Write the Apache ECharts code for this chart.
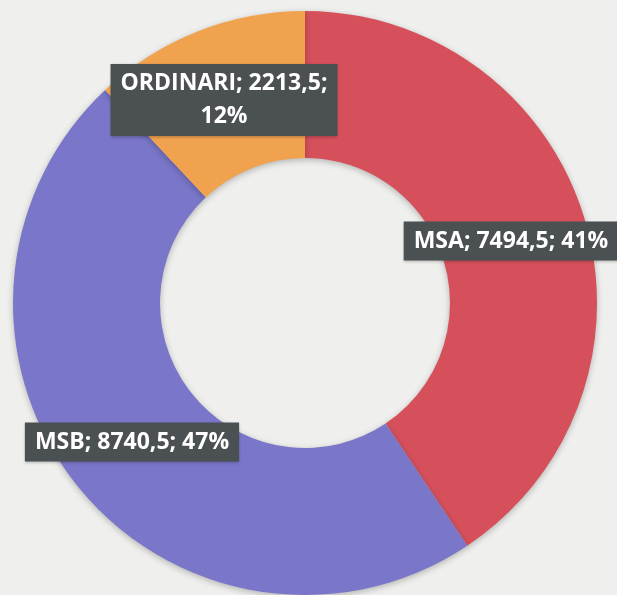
<!DOCTYPE html>
<html>
<head>
<meta charset="utf-8">
<style>
  html, body { margin: 0; padding: 0; background: #efefed; }
  #contain { width: 617px; height: 595px; }
</style>
<script src="https://cdn.jsdelivr.net/npm/echarts@6/dist/echarts.min.js"></script>
</head>
<body>
<div id="contain"></div>
<script>
var names = ['MSA', 'MSB', 'ORDINARI'];
var values = [7494.5, 8740.5, 2213.5];
var colors = ['#d6505c', '#7a76c9', '#f1a24f'];

// centri delle etichette
var labelPos = [[511, 241], [132, 442], [224, 100]];

var data = [];
for (var i = 0; i < names.length; i++) {
    data.push({ name: names[i], value: values[i], itemStyle: { color: colors[i] } });
}

var myChart = echarts.init(document.getElementById('contain'));
myChart.setOption({
    backgroundColor: '#efefed',
    animation: false,
    series: [{
        type: 'pie',
        center: [305, 303],
        radius: [145, 292],
        startAngle: 90,
        clockwise: true,
        data: data,
        itemStyle: {
            shadowColor: 'rgba(0,0,0,0.25)',
            shadowBlur: 6,
            shadowOffsetY: 2
        },
        label: {
            show: true,
            position: 'inside',
            align: 'center',
            verticalAlign: 'middle',
            formatter: function (p) {
                var v = String(p.value).replace('.', ',');
                var pct = Math.round(p.percent) + '%';
                if (p.name === 'ORDINARI') {
                    return p.name + '; ' + v + ';\n' + pct;
                }
                return p.name + '; ' + v + '; ' + pct;
            },
            color: '#ffffff',
            fontFamily: 'Open Sans',
            fontWeight: 'bold',
            fontSize: 23,
            lineHeight: 33,
            backgroundColor: '#4b5052',
            padding: [3, 10],
            shadowColor: 'rgba(0,0,0,0.3)',
            shadowBlur: 3,
            shadowOffsetY: 1
        },
        labelLine: { show: false },
        labelLayout: function (params) {
            return {
                x: labelPos[params.dataIndex][0],
                y: labelPos[params.dataIndex][1],
                align: 'center',
                verticalAlign: 'middle'
            };
        }
    }]
});
</script>
</body>
</html>
